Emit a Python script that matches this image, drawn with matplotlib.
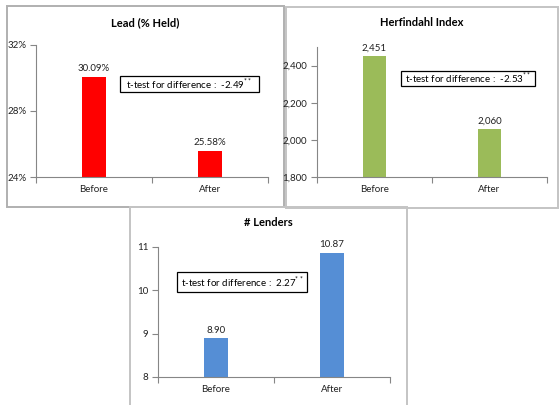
import matplotlib
matplotlib.use("Agg")
import matplotlib.pyplot as plt
from matplotlib.patches import Rectangle
from matplotlib.ticker import FuncFormatter

plt.rcParams['font.family'] = ['Lato', 'DejaVu Sans']
plt.rcParams['mathtext.fontset'] = 'custom'
plt.rcParams['mathtext.rm'] = 'Lato'

W, H = 559, 405

categories = ['Before', 'After']
lead_held = [30.09, 25.58]
herfindahl = [2451, 2060]
n_lenders = [8.90, 10.87]
t_stats = [-2.49, -2.53, 2.27]

fig = plt.figure(figsize=(W / 100, H / 100), dpi=100)
fig.patch.set_facecolor('white')


def px_rect(x0, y0, x1, y1):
    # pixel box (top-left origin) -> figure fraction [left, bottom, width, height]
    return [x0 / W, 1 - y1 / H, (x1 - x0) / W, (y1 - y0) / H]


def frame(x0, y0, x1, y1, color='#c4c4c4'):
    l, b, w, h = px_rect(x0, y0, x1, y1)
    fig.add_artist(Rectangle((l, b), w, h, transform=fig.transFigure,
                             fill=False, edgecolor=color, lw=1.4, zorder=0))


def stat_box(x0, y0, x1, y1, t):
    l, b, w, h = px_rect(x0, y0, x1, y1)
    fig.add_artist(Rectangle((l, b), w, h, transform=fig.transFigure,
                             facecolor='white', edgecolor='black', lw=0.9, zorder=5))
    fig.text(l + w / 2, b + h / 2, 't-test for difference :  %.2f$^{**}$' % t,
             ha='center', va='center', fontsize=7.0, color='black', zorder=6)


def bar_panel(rect, values, color, ylim, yticks, fmt, labels):
    ax = fig.add_axes(rect)
    ax.bar(range(len(categories)), values, width=0.2, color=color, zorder=2)
    ax.set_xlim(-0.5, 1.5)
    ax.set_ylim(*ylim)
    ax.set_yticks(yticks)
    ax.yaxis.set_major_formatter(FuncFormatter(fmt))
    ax.set_xticks(range(len(categories)))
    ax.set_xticklabels(categories)
    ax.set_xticks([-0.5, 0.5, 1.5], minor=True)
    ax.tick_params(axis='x', which='major', length=0, pad=6, labelsize=7, colors='#222222')
    ax.tick_params(axis='x', which='minor', length=4, width=0.8, color='#868686', direction='out')
    ax.tick_params(axis='y', length=4, width=0.8, color='#868686', pad=3,
                   labelsize=7, labelcolor='#222222')
    for s in ['top', 'right']:
        ax.spines[s].set_visible(False)
    for s in ['left', 'bottom']:
        ax.spines[s].set_color('#868686')
        ax.spines[s].set_linewidth(0.8)
    ax.patch.set_alpha(0)
    for i, (v, lab) in enumerate(zip(values, labels)):
        ax.annotate(lab, (i, v), xytext=(0, 2.5), textcoords='offset points',
                    ha='center', va='bottom', fontsize=7, color='#222222')
    return ax


# panel frames
frame(7, 6, 284, 207, color='#b0b0b0')
frame(286, 7, 558, 208)
frame(130, 207, 407, 410)

# Lead (% Held)
bar_panel(px_rect(36, 45, 268, 177), lead_held, '#ff0000', (24, 32), [24, 28, 32],
          lambda v, p: '%d%%' % v, ['%.2f%%' % v for v in lead_held])
fig.text(145.5 / W, 1 - 23 / H, 'Lead (% Held)', ha='center', va='center',
         fontsize=8, fontweight='bold')
stat_box(120, 76, 259, 92, t_stats[0])

# Herfindahl Index
bar_panel(px_rect(317, 47, 547, 177), herfindahl, '#9bbb59', (1800, 2500),
          [1800, 2000, 2200, 2400], lambda v, p: '{:,.0f}'.format(v),
          ['{:,.0f}'.format(v) for v in herfindahl])
fig.text(422 / W, 1 - 23 / H, 'Herfindahl Index', ha='center', va='center',
         fontsize=8, fontweight='bold')
stat_box(401, 71, 535, 86, t_stats[1])

# # Lenders
bar_panel(px_rect(158, 247, 390, 377), n_lenders, '#558ed5', (8, 11), [8, 9, 10, 11],
          lambda v, p: '%d' % v, ['%.2f' % v for v in n_lenders])
fig.text(268.5 / W, 1 - 223 / H, '# Lenders', ha='center', va='center',
         fontsize=8, fontweight='bold')
stat_box(177, 272, 307, 292, t_stats[2])

fig.savefig('out.png', dpi=100, facecolor='white')
